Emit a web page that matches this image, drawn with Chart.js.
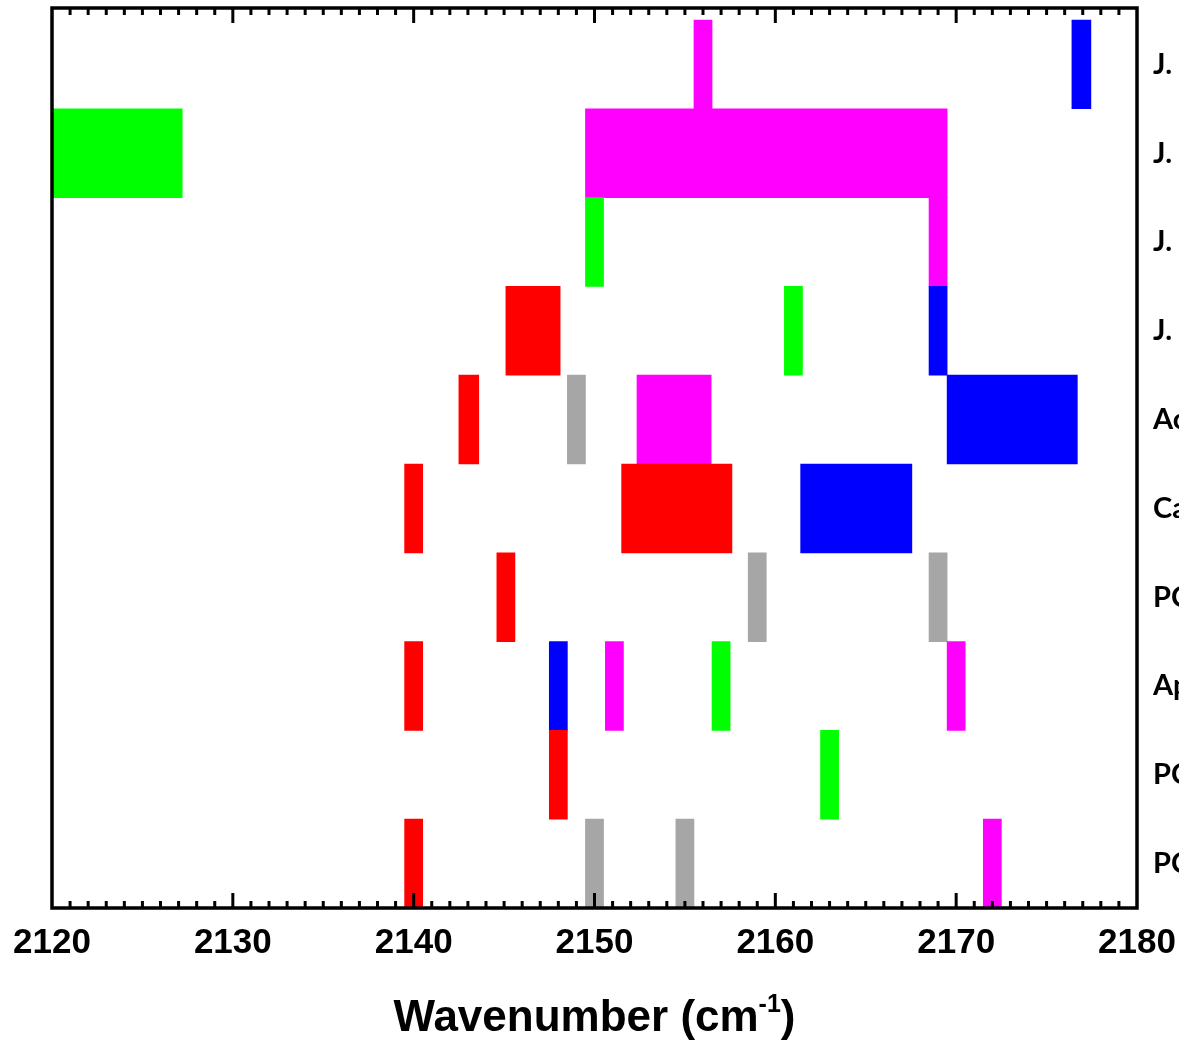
<!DOCTYPE html>
<html>
<head>
<meta charset="utf-8">
<script src="https://cdn.jsdelivr.net/npm/chart.js@4.4.0/dist/chart.umd.min.js"></script>
<style>
  html, body { margin: 0; padding: 0; background: #fff; overflow: hidden; }
</style>
</head>
<body>
<canvas id="bandChart" width="1179" height="1040"></canvas>
<script>
// filas de arriba a abajo (las etiquetas quedan cortadas en el borde derecho)
const rowLabels = ['J.', 'J.', 'J.', 'J.', 'Ac', 'Ca', 'PC', 'Ap', 'PC', 'PC'];
const xTicks = [2120, 2130, 2140, 2150, 2160, 2170, 2180];

// bandas por color: [fila, inicio, fin] en cm-1
const redBands = [[3, 2145.1, 2148.1], [4, 2142.5, 2143.6], [5, 2139.5, 2140.5], [5, 2151.5, 2157.6],
                  [6, 2144.6, 2145.6], [7, 2139.5, 2140.5], [8, 2147.5, 2148.5], [9, 2139.5, 2140.5]];
const greenBands = [[1, 2120, 2127.2], [2, 2149.5, 2150.5], [3, 2160.5, 2161.5], [7, 2156.5, 2157.5], [8, 2162.5, 2163.5]];
const blueBands = [[0, 2176.4, 2177.45], [3, 2168.5, 2169.5], [4, 2169.5, 2176.7], [5, 2161.4, 2167.55], [7, 2147.5, 2148.5]];
const magentaBands = [[0, 2155.5, 2156.5], [1, 2149.5, 2169.5], [2, 2168.5, 2169.5], [4, 2152.35, 2156.45],
                      [7, 2150.6, 2151.6], [7, 2169.5, 2170.5], [9, 2171.5, 2172.5]];
const grayBands = [[4, 2148.5, 2149.5], [6, 2158.5, 2159.5], [6, 2168.5, 2169.5], [9, 2149.5, 2150.5], [9, 2154.5, 2155.5]];

function toPoints(bands) {
    return bands.map(b => ({ x: [b[1], b[2]], y: b[0] }));
}

function makeSet(name, bands, color) {
    return {
        label: name,
        data: toPoints(bands),
        backgroundColor: color,
        borderWidth: 0,
        grouped: false,
        barPercentage: 1,
        categoryPercentage: 1
    };
}

// quitar el relleno automático que añaden las etiquetas
function noPadding(scale) {
    scale.paddingTop = 0;
    scale.paddingBottom = 0;
    scale.paddingLeft = 0;
    scale.paddingRight = 0;
}

// marco con marcas hacia dentro arriba y abajo, y título del eje X
const framePlugin = {
    id: 'frame',
    afterDatasetsDraw(chart) {
        const { ctx, chartArea: a, scales: { x } } = chart;
        ctx.save();
        ctx.strokeStyle = '#000';
        ctx.lineWidth = 3;
        ctx.beginPath();
        for (let v = xTicks[0] + 1; v < xTicks[xTicks.length - 1]; v++) {
            const px = x.getPixelForValue(v);
            const len = (v % 10 === 0) ? 15 : 7;
            ctx.moveTo(px, a.top);
            ctx.lineTo(px, a.top + len);
            ctx.moveTo(px, a.bottom);
            ctx.lineTo(px, a.bottom - len);
        }
        ctx.stroke();
        ctx.lineWidth = 3.5;
        ctx.strokeRect(a.left, a.top, a.right - a.left, a.bottom - a.top);
        ctx.restore();
    },
    afterDraw(chart) {
        const { ctx, chartArea: a } = chart;
        const main = 'Wavenumber (cm';
        const sup = '-1';
        const end = ')';
        const big = 'bold 44px "Liberation Sans", Arial, sans-serif';
        const small = 'bold 25px "Liberation Sans", Arial, sans-serif';
        ctx.save();
        ctx.fillStyle = '#000';
        ctx.textBaseline = 'alphabetic';
        ctx.font = big;
        const w1 = ctx.measureText(main).width;
        const w3 = ctx.measureText(end).width;
        ctx.font = small;
        const w2 = ctx.measureText(sup).width;
        let px = (a.left + a.right) / 2 - (w1 + w2 + w3) / 2;
        const base = 1031;
        ctx.font = big;
        ctx.fillText(main, px, base);
        px += w1;
        ctx.font = small;
        ctx.fillText(sup, px, base - 19);
        px += w2;
        ctx.font = big;
        ctx.fillText(end, px, base);
        ctx.restore();
    }
};

const ctx = document.getElementById('bandChart').getContext('2d');

const bandChart = new Chart(ctx, {
    type: 'bar',
    data: {
        datasets: [
            makeSet('red', redBands, '#ff0000'),
            makeSet('green', greenBands, '#00ff00'),
            makeSet('blue', blueBands, '#0000ff'),
            makeSet('magenta', magentaBands, '#ff00ff'),
            makeSet('gray', grayBands, '#a6a6a6')
        ]
    },
    options: {
        indexAxis: 'y',
        responsive: false,
        animation: false,
        layout: { padding: { left: 52, top: 8, right: 0, bottom: 0 } },
        plugins: {
            legend: { display: false },
            tooltip: { enabled: false }
        },
        scales: {
            x: {
                type: 'linear',
                position: 'bottom',
                min: 2120,
                max: 2180,
                afterBuildTicks(scale) {
                    scale.ticks = xTicks.map(v => ({ value: v }));
                },
                afterFit(scale) {
                    scale.height = 132;
                    noPadding(scale);
                },
                grid: { display: false, drawTicks: false },
                border: { display: false },
                ticks: {
                    color: '#000',
                    padding: 14,
                    maxRotation: 0,
                    callback: (value) => String(value),
                    font: { family: '"Liberation Sans", Arial, sans-serif', size: 35, weight: 'bold' }
                }
            },
            y: {
                type: 'linear',
                position: 'right',
                reverse: true,
                offset: false,
                min: -0.635,
                max: 9.5,
                afterBuildTicks(scale) {
                    scale.ticks = rowLabels.map((_, i) => ({ value: i }));
                },
                afterFit(scale) {
                    scale.width = 42;
                    noPadding(scale);
                },
                grid: { display: false, drawTicks: false },
                border: { display: false },
                ticks: {
                    color: '#000',
                    padding: 16,
                    callback: (value) => rowLabels[value],
                    font: { family: 'Lato, "Open Sans", sans-serif', size: 29, weight: 'bold' }
                }
            }
        }
    },
    plugins: [framePlugin]
});
</script>
</body>
</html>
